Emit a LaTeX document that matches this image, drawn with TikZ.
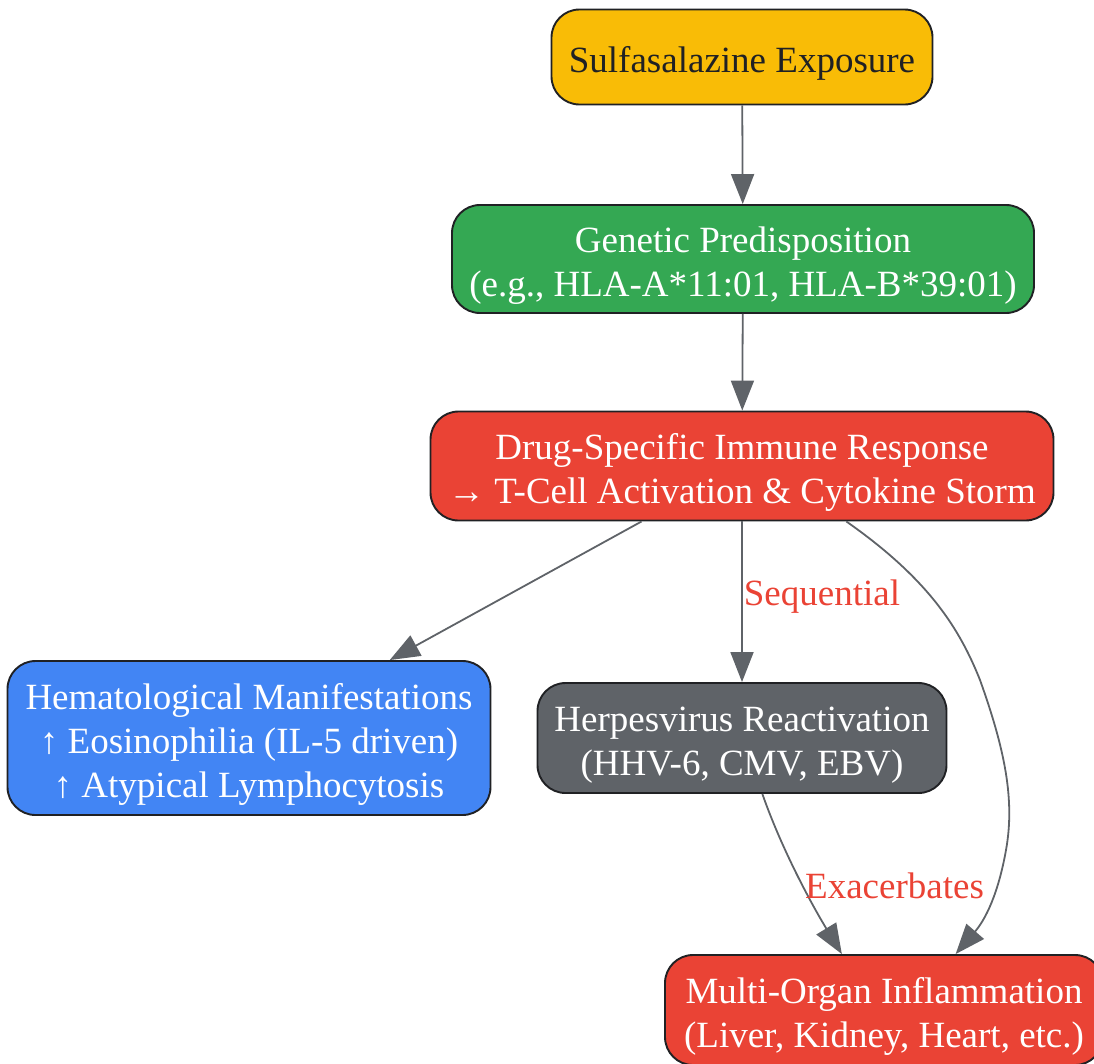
\documentclass[tikz,border=0pt]{standalone}
\usepackage{fontspec}
\setmainfont{Liberation Serif}
\usepackage{xcolor}
\usetikzlibrary{arrows.meta}

\definecolor{gold}{HTML}{F9BC06}
\definecolor{leaf}{HTML}{34A853}
\definecolor{alert}{HTML}{EA4335}
\definecolor{sky}{HTML}{4285F4}
\definecolor{slate}{HTML}{5F6368}
\definecolor{ink}{HTML}{202124}

% strut that nudges the box text down a little
\newcommand{\lift}{\rule{0pt}{39pt}}

\begin{document}
\begin{tikzpicture}[x=1pt, y=-1pt,
    box/.style={draw=ink, line width=1.9pt, rounded corners=28pt, align=center,
                text=white, inner sep=0pt,
                font=\fontsize{37}{44}\selectfont},
    edge/.style={draw=slate, line width=1.8pt, -{Triangle[length=30pt,width=23pt]}},
    elabel/.style={text=alert, inner sep=1pt, font=\fontsize{37}{44}\selectfont}]

  \useasboundingbox (0,0) rectangle (1094,1063);

  % === Nodes ===
  \node[box, fill=gold, text=ink, minimum width=381pt, minimum height=95pt]
    (expo) at (742,57) {\lift Sulfasalazine Exposure};
  \node[box, fill=leaf, minimum width=582pt, minimum height=108pt]
    (genetic) at (743,259) {\lift Genetic Predisposition\\(e.g., HLA-A*11:01, HLA-B*39:01)};
  \node[box, fill=alert, minimum width=623pt, minimum height=109pt]
    (immune) at (742,466) {\lift Drug-Specific Immune Response\\→ T-Cell Activation \& Cytokine Storm};
  \node[box, fill=sky, minimum width=483pt, minimum height=154pt]
    (hema) at (249,738) {\lift Hematological Manifestations\\↑ Eosinophilia (IL-5 driven)\\↑ Atypical Lymphocytosis};
  \node[box, fill=slate, minimum width=409pt, minimum height=110pt]
    (herpes) at (742,738) {\lift Herpesvirus Reactivation\\(HHV-6, CMV, EBV)};
  \node[box, fill=alert, minimum width=438pt, minimum height=110pt]
    (organ) at (884,1010) {\lift Multi-Organ Inflammation\\(Liver, Kidney, Heart, etc.)};

  % === Edges ===
  \draw[edge] (expo) -- (genetic);
  \draw[edge] (genetic) -- (immune);
  \draw[edge] (immune) -- (hema);
  \draw[edge] (immune) -- node[elabel, pos=0.47, anchor=west] {Sequential} (herpes);
  \draw[edge] (herpes.-70) .. controls (782,850) and (812,905) .. (organ.127)
    node[elabel, pos=0.56, anchor=west] {Exacerbates};
  \draw[edge] (immune.-28) .. controls (930,580) and (960,630) .. (980,680)
    .. controls (1005,750) and (1015,800) .. (1006,850)
    .. controls (998,895) and (985,920) .. (organ.38);

\end{tikzpicture}
\end{document}
